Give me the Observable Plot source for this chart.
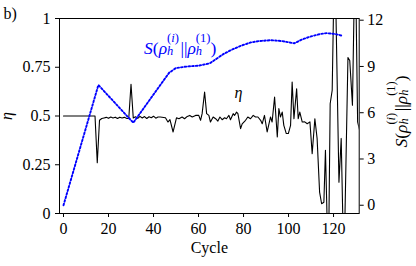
<!DOCTYPE html>
<html><head><meta charset="utf-8">
<script src="https://cdn.jsdelivr.net/npm/d3@7"></script>
<script src="https://cdn.jsdelivr.net/npm/@observablehq/plot@0.6"></script>
<style>html,body{margin:0;padding:0;background:#fff}svg{display:block}</style>
</head><body>
<script>
// η (left axis) vs cycle
const etaCycles = [0,1,2,3,4,5,6,7,8,9,10,11,12,13,14,15,16,17,18,19,20,21,22,23,24,25,26,27,28,29,30,31,32,33,34,35,36,37,38,39,40,41,42,43,
  45.3,46.4,47.3,48.7,50.2,51.3,52.7,53.8,55,56.1,57.2,58.7,60.1,60.9,61.6,62.7,63.6,64.6,65.3,66.5,67.6,68.6,69.5,70.5,71.6,72.4,73.5,74.2,75.4,76,76.9,77.5,78.7,79.4,80.9,81.9,83.1,84.3,85.3,86.4,87.6,88.3,89.3,90.5,91.3,92,
  92.7,93.8,95,95.7,96.4,97.2,97.9,99,99.9,100.9,101.6,102.4,103.6,104.3,105,106.1,107.2,108.3,109.5,110.5,111.7,112.7,113.8,114.7,115.7,116.4,117.7,118.5,119.4,120.5,122.4,123.4,124.6,126.4,127.2,128.4,129.6,130.7,131.5];
const etaValues = [0.5,0.5,0.5,0.5,0.5,0.5,0.5,0.5,0.5,0.5,0.5,0.5,0.5,0.5,0.5,0.26,0.478,0.487,0.49,0.493,0.488,0.495,0.49,0.494,0.487,0.494,0.49,0.493,0.488,0.487,0.663,0.49,0.496,0.488,0.498,0.49,0.497,0.487,0.496,0.491,0.499,0.489,0.495,0.495,
  0.491,0.469,0.481,0.418,0.491,0.486,0.495,0.486,0.498,0.503,0.495,0.503,0.503,0.478,0.512,0.623,0.512,0.503,0.469,0.495,0.486,0.474,0.495,0.481,0.491,0.486,0.503,0.481,0.512,0.503,0.52,0.512,0.435,0.46,0.478,0.495,0.486,0.503,0.495,0.495,0.478,0.46,0.503,0.418,0.46,0.495,
  0.469,0.597,0.392,0.538,0.495,0.52,0.452,0.41,0.41,0.452,0.674,0.486,0.64,0.486,0.52,0.469,0.47,0.46,0.47,0.307,0.486,0.384,0.11,0.05,0.058,0.324,-0.3,0.563,0.632,1.4,0.16,0.385,-0.3,0.8,0.785,0.555,1.4,0.47,0.43];

// S(ρ_h^(i)||ρ_h^(1)) (right axis) vs cycle
const sCycles = [0,15.5,31,45,47,50,55,60,65,68,71,75,79,83,87,92,97,102.5,106,110,114,117,121,123.6];
const sValues = [0,7.8,5.35,8.2,8.6,8.9,9.0,9.05,9.2,9.5,9.8,10.1,10.35,10.55,10.65,10.7,10.65,10.5,10.75,10.95,11.1,11.16,11.1,11.0];

const xTicks = [0,20,40,60,80,100,120];
const etaTicks = [0,0.25,0.5,0.75,1];
const sTicks = [0,3,6,9,12];

const sMin = -0.535, sMax = 12.11;
const toEta = s => (s - sMin) / (sMax - sMin);
const fromEta = e => e * (sMax - sMin) + sMin;

const etaData = etaCycles.map((c, i) => ({cycle: c, eta: etaValues[i]}));
const sData = sCycles.map((c, i) => ({cycle: c, s: sValues[i]}));

const FONT = "Liberation Serif";
const SLABEL = "S(ρh(i)||ρh(1))";

const svg = Plot.plot({
  width: 416, height: 266,
  marginTop: 18, marginBottom: 53, marginLeft: 59, marginRight: 57.3,
  style: {background: "white", color: "black", overflow: "visible"},
  x: {domain: [-1.78, 131.4]},
  y: {domain: [0, 1]},
  marks: [
    Plot.line(etaData, {x: "cycle", y: "eta", stroke: "black", strokeWidth: 1.1, clip: true}),
    Plot.line(sData, {x: "cycle", y: d => toEta(d.s), stroke: "blue", strokeWidth: 1.9, strokeDasharray: "1.7,2"}),
    Plot.frame({stroke: "black", strokeWidth: 1}),
    Plot.axisX({ticks: xTicks, tickSize: 4, tickPadding: 5, label: null, fontSize: 16, fontFamily: FONT, tickFormat: d => String(d)}),
    Plot.axisY({ticks: etaTicks, tickSize: 4, tickPadding: 5, label: null, fontSize: 16, fontFamily: FONT, tickFormat: d => String(d)}),
    Plot.axisY({anchor: "right", ticks: sTicks.map(toEta), tickSize: 4, tickPadding: 4, label: null, fontSize: 16, fontFamily: FONT,
      tickFormat: d => String(Math.round(fromEta(d)))}),
    Plot.text(["b)"], {frameAnchor: "top-left", dx: -56, dy: 0.5, textAnchor: "start", lineAnchor: "bottom", fontSize: 16, fontFamily: FONT}),
    Plot.text(["Cycle"], {frameAnchor: "bottom", dy: 39, textAnchor: "middle", lineAnchor: "bottom", fontSize: 16, fontFamily: FONT}),
    Plot.text(["η"], {frameAnchor: "left", dx: -47.5, rotate: -90, textAnchor: "middle", lineAnchor: "bottom", fontSize: 16, fontStyle: "italic", fontFamily: FONT}),
    Plot.text([SLABEL], {frameAnchor: "right", dx: 47.3, dy: -4.5, rotate: -90, textAnchor: "middle", lineAnchor: "bottom", fontSize: 17.5, fontFamily: FONT}),
    Plot.text(["η"], {x: () => 77.8, y: () => 0.592, textAnchor: "middle", lineAnchor: "bottom", fontSize: 16, fontStyle: "italic", fontFamily: FONT}),
    Plot.text([SLABEL], {x: () => 35.8, y: () => 0.82, textAnchor: "start", lineAnchor: "bottom", fontSize: 17.5, fill: "blue", fontFamily: FONT})
  ]
});
svg.setAttribute("font-family", FONT);
svg.querySelectorAll("g,text").forEach(el => el.setAttribute("font-family", FONT));
document.body.append(svg);

// rebuild the relative-entropy labels with sub/superscripts
d3.select(svg).selectAll("text").filter(function () { return this.textContent === SLABEL; }).each(function () {
  const t = d3.select(this);
  t.text(null);
  const ss = 12.5, up = 11.5, dn = 1.5;
  const add = (txt, italic, size) => {
    const s = t.append("tspan").attr("font-family", FONT).text(txt);
    if (italic) s.attr("font-style", "italic");
    if (size) s.attr("font-size", size);
    return s;
  };
  const rhoPart = (sup) => {
    add("ρ", true);
    const h = add("h", true, ss).attr("dy", dn);
    const w = h.node().getComputedTextLength();
    add("(", false, ss).attr("dx", -w).attr("dy", -(up + dn));
    add(sup, sup === "i", ss);
    add(")", false, ss);
  };
  add("S", true);
  add("(", false);
  rhoPart("i");
  add("||", false).attr("dy", up).attr("dx", 1.5);
  add("", false).attr("dx", 1.5);
  rhoPart("1");
  add(")", false).attr("dy", up);
});
</script>
</body></html>
